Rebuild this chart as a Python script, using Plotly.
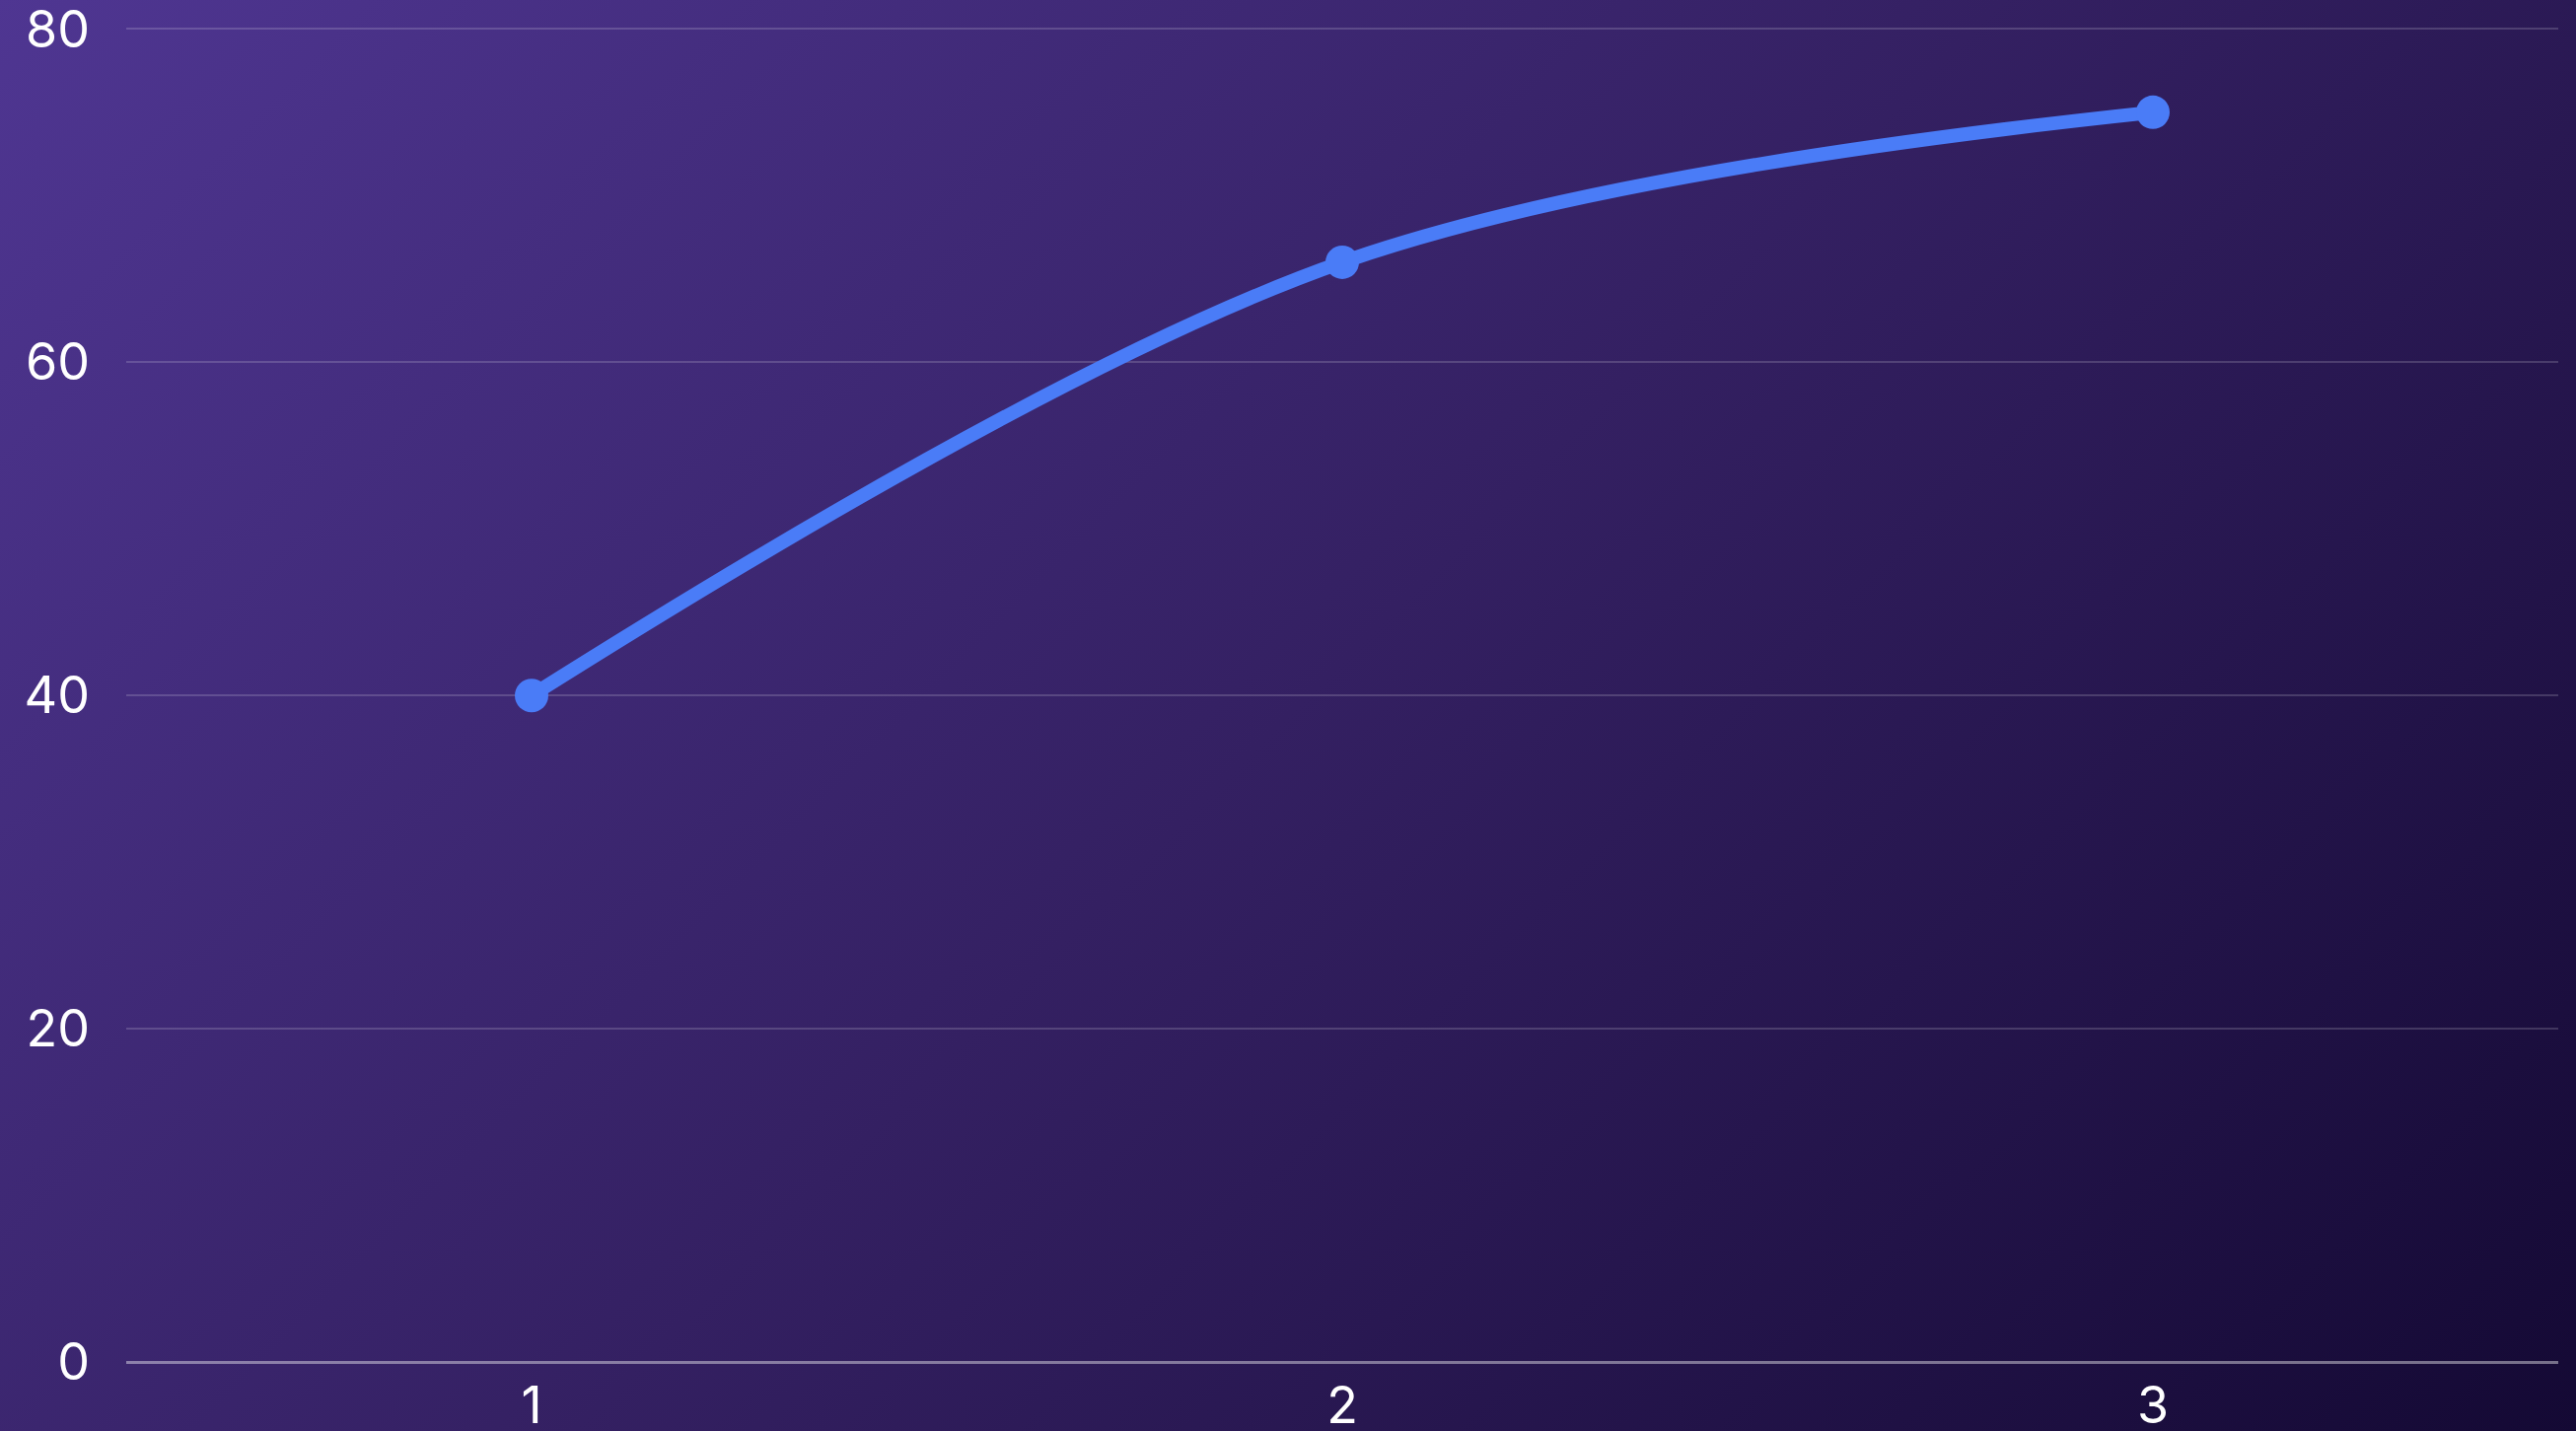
import base64
import plotly.graph_objects as go

# Series data
categories = [1, 2, 3]
values = [40, 66, 75]
y_ticks = [0, 20, 40, 60, 80]
x_tick_labels = ["1", "2", "3"]

W, H = 2612, 1451
margin = dict(l=128, r=18, t=26, b=70)

# Diagonal (135deg) background gradient, drawn as an SVG image behind the whole figure
half = (W + H) / 4
x1, y1 = W / 2 - half, H / 2 - half
x2, y2 = W / 2 + half, H / 2 + half
svg = (
    f'<svg xmlns="http://www.w3.org/2000/svg" width="{W}" height="{H}" '
    f'viewBox="0 0 {W} {H}" preserveAspectRatio="none">'
    f'<defs><linearGradient id="bg" gradientUnits="userSpaceOnUse" '
    f'x1="{x1}" y1="{y1}" x2="{x2}" y2="{y2}">'
    '<stop offset="0" stop-color="#4f3692"/>'
    '<stop offset="0.5" stop-color="#342062"/>'
    '<stop offset="1" stop-color="#140934"/>'
    '</linearGradient></defs>'
    f'<rect x="0" y="0" width="{W}" height="{H}" fill="url(#bg)"/></svg>'
)
bg_src = "data:image/svg+xml;base64," + base64.b64encode(svg.encode()).decode()

pw = W - margin["l"] - margin["r"]
ph = H - margin["t"] - margin["b"]
pad = 4  # overscan so the backdrop reaches every edge

line_color = "#4a7cf7"
tick_font = dict(family="Inter", color="#ffffff", size=52)

fig = go.Figure(
    go.Scatter(
        x=categories,
        y=values,
        mode="lines+markers",
        line=dict(color=line_color, width=14, shape="spline"),
        marker=dict(color=line_color, size=34),
        hoverinfo="skip",
    )
)

fig.update_layout(
    width=W,
    height=H,
    margin=margin,
    paper_bgcolor="#221349",
    plot_bgcolor="rgba(0,0,0,0)",
    showlegend=False,
    font=tick_font,
    images=[
        dict(
            source=bg_src,
            xref="paper",
            yref="paper",
            x=-(margin["l"] + pad) / pw,
            y=1 + (margin["t"] + pad) / ph,
            sizex=(W + 2 * pad) / pw,
            sizey=(H + 2 * pad) / ph,
            xanchor="left",
            yanchor="top",
            sizing="stretch",
            layer="below",
        )
    ],
    xaxis=dict(
        range=[0.5, 3.5],
        tickvals=categories,
        ticktext=x_tick_labels,
        showgrid=False,
        zeroline=False,
        showline=False,
        ticks="",
        ticklabelstandoff=9,
        ticklabeloverflow="allow",
        automargin=False,
        tickfont=tick_font,
    ),
    yaxis=dict(
        range=[0, 80.2],
        tickvals=y_ticks,
        ticktext=[str(v) for v in y_ticks],
        showgrid=True,
        gridcolor="rgba(255,255,255,0.17)",
        gridwidth=2,
        zeroline=True,
        zerolinecolor="rgba(255,255,255,0.42)",
        zerolinewidth=3,
        showline=False,
        ticks="",
        ticklabelstandoff=36,
        ticklabeloverflow="allow",
        automargin=False,
        tickfont=tick_font,
    ),
)

fig.write_html("out.html")
